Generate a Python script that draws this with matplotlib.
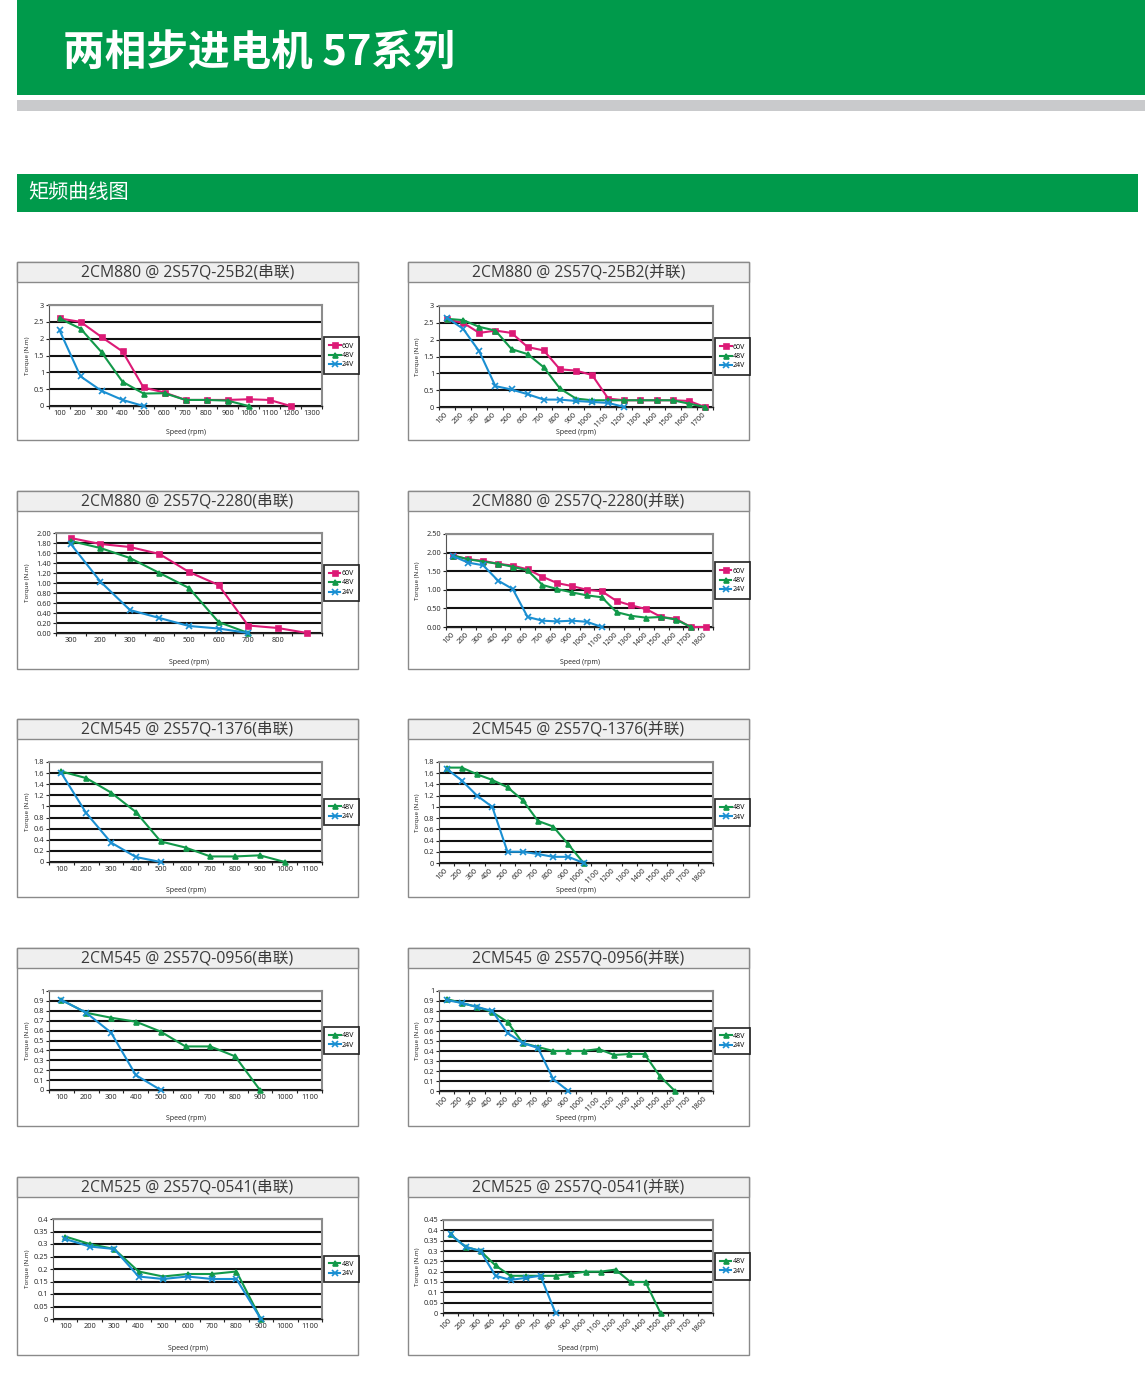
import matplotlib
matplotlib.use('Agg')
import matplotlib.pyplot as plt
from matplotlib.patches import Rectangle
import numpy as np

plt.rcParams['font.family'] = ['Open Sans', 'Noto Sans CJK SC', 'DejaVu Sans']

# category labels (speed, rpm)
speed_1100 = ['100', '200', '300', '400', '500', '600', '700', '800', '900', '1000', '1100']
speed_1300 = speed_1100 + ['1200', '1300']
speed_1700 = speed_1300 + ['1400', '1500', '1600', '1700']
speed_1800 = speed_1700 + ['1800']
speed_2280s = ['300', '200', '300', '400', '500', '600', '700', '800', '']

# 2CM880 @ 2S57Q-25B2
s25_60v = [2.6, 2.5, 2.05, 1.62, 0.55, 0.4, 0.18, 0.18, 0.18, 0.2, 0.18, 0.0]
s25_48v = [2.6, 2.3, 1.6, 0.72, 0.37, 0.38, 0.18, 0.18, 0.16, 0.0]
s25_24v = [2.25, 0.88, 0.45, 0.18, 0.0]
p25_60v = [2.6, 2.5, 2.2, 2.27, 2.2, 1.78, 1.68, 1.12, 1.08, 0.95, 0.25, 0.2, 0.2, 0.2, 0.2, 0.18, 0.0]
p25_48v = [2.62, 2.58, 2.38, 2.27, 1.72, 1.57, 1.18, 0.55, 0.25, 0.2, 0.2, 0.2, 0.2, 0.2, 0.2, 0.1, 0.0]
p25_24v = [2.65, 2.32, 1.65, 0.62, 0.52, 0.38, 0.22, 0.22, 0.18, 0.15, 0.12, 0.0]

# 2CM880 @ 2S57Q-2280
s22_60v = [1.9, 1.78, 1.72, 1.58, 1.22, 0.96, 0.15, 0.1, 0.0]
s22_48v = [1.84, 1.7, 1.5, 1.2, 0.9, 0.22, 0.0]
s22_24v = [1.78, 1.03, 0.46, 0.3, 0.14, 0.09, 0.0]
p22_60v = [1.92, 1.82, 1.78, 1.7, 1.65, 1.55, 1.35, 1.18, 1.1, 1.0, 0.96, 0.7, 0.58, 0.48, 0.27, 0.22, 0.0, 0.0]
p22_48v = [1.92, 1.82, 1.76, 1.7, 1.62, 1.52, 1.13, 1.02, 0.93, 0.85, 0.8, 0.4, 0.3, 0.25, 0.27, 0.2, 0.0]
p22_24v = [1.9, 1.73, 1.66, 1.25, 1.02, 0.27, 0.17, 0.15, 0.17, 0.14, 0.0]

# 2CM545 @ 2S57Q-1376
s13_48v = [1.63, 1.51, 1.25, 0.9, 0.37, 0.26, 0.1, 0.1, 0.12, 0.0]
s13_24v = [1.6, 0.88, 0.35, 0.09, 0.0]
p13_48v = [1.7, 1.7, 1.58, 1.48, 1.35, 1.12, 0.75, 0.65, 0.33, 0.0]
p13_24v = [1.68, 1.47, 1.2, 1.0, 0.2, 0.2, 0.16, 0.11, 0.11, 0.0]

# 2CM545 @ 2S57Q-0956
s09_48v = [0.91, 0.78, 0.73, 0.69, 0.59, 0.44, 0.44, 0.34, 0.0]
s09_24v = [0.91, 0.78, 0.58, 0.15, 0.0]
p09_48v = [0.92, 0.88, 0.84, 0.79, 0.69, 0.48, 0.44, 0.40, 0.40, 0.40, 0.42, 0.36, 0.37, 0.37, 0.15, 0.0]
p09_24v = [0.91, 0.88, 0.84, 0.8, 0.58, 0.48, 0.43, 0.12, 0.0]

# 2CM525 @ 2S57Q-0541
s05_48v = [0.33, 0.30, 0.28, 0.19, 0.17, 0.18, 0.18, 0.19, 0.0]
s05_24v = [0.32, 0.29, 0.28, 0.17, 0.16, 0.17, 0.16, 0.16, 0.0]
p05_48v = [0.38, 0.32, 0.30, 0.23, 0.18, 0.18, 0.18, 0.18, 0.19, 0.20, 0.20, 0.21, 0.15, 0.15, 0.0]
p05_24v = [0.38, 0.32, 0.30, 0.18, 0.16, 0.17, 0.18, 0.0]

GREEN = '#009a4b'
C60, C48, C24 = '#dc1a76', '#12994a', '#1a8fd2'
STYLE = {'60V': (C60, 's'), '48V': (C48, '^'), '24V': (C24, 'x')}

W, H = 1145, 1374
COLS = [17, 408]
ROWS = [262, 491, 719, 948, 1177]
PW, PH = 341, 178

# (title, col, row, cats, series, ymax, ystep, decimals, rotate, xlabel, plot offsets left/top/bottom)
charts = [
    ('2CM880 @ 2S57Q-25B2(串联)', 0, 0, speed_1300,
     [('60V', s25_60v), ('48V', s25_48v), ('24V', s25_24v)], 3, 0.5, None, False, 'Speed (rpm)', (32, 43, 144)),
    ('2CM880 @ 2S57Q-25B2(并联)', 1, 0, speed_1700,
     [('60V', p25_60v), ('48V', p25_48v), ('24V', p25_24v)], 3, 0.5, None, True, 'Speed (rpm)', (31, 44, 145)),
    ('2CM880 @ 2S57Q-2280(串联)', 0, 1, speed_2280s,
     [('60V', s22_60v), ('48V', s22_48v), ('24V', s22_24v)], 2.0, 0.2, 2, False, 'Speed (rpm)', (39, 42, 142)),
    ('2CM880 @ 2S57Q-2280(并联)', 1, 1, speed_1800,
     [('60V', p22_60v), ('48V', p22_48v), ('24V', p22_24v)], 2.5, 0.5, 2, True, 'Speed (rpm)', (38, 43, 136)),
    ('2CM545 @ 2S57Q-1376(串联)', 0, 2, speed_1100,
     [('48V', s13_48v), ('24V', s13_24v)], 1.8, 0.2, None, False, 'Speed (rpm)', (32, 43, 143)),
    ('2CM545 @ 2S57Q-1376(并联)', 1, 2, speed_1800,
     [('48V', p13_48v), ('24V', p13_24v)], 1.8, 0.2, None, True, 'Speed (rpm)', (31, 43, 144)),
    ('2CM545 @ 2S57Q-0956(串联)', 0, 3, speed_1100,
     [('48V', s09_48v), ('24V', s09_24v)], 1.0, 0.1, None, False, 'Speed (rpm)', (32, 43, 142)),
    ('2CM545 @ 2S57Q-0956(并联)', 1, 3, speed_1800,
     [('48V', p09_48v), ('24V', p09_24v)], 1.0, 0.1, None, True, 'Speed (rpm)', (31, 43, 143)),
    ('2CM525 @ 2S57Q-0541(串联)', 0, 4, speed_1100,
     [('48V', s05_48v), ('24V', s05_24v)], 0.4, 0.05, None, False, 'Speed (rpm)', (36, 42, 142)),
    ('2CM525 @ 2S57Q-0541(并联)', 1, 4, speed_1800,
     [('48V', p05_48v), ('24V', p05_24v)], 0.45, 0.05, None, True, 'Spead (rpm)', (35, 43, 136)),
]

fig = plt.figure(figsize=(W / 100, H / 100), dpi=100)
bg = fig.add_axes([0, 0, 1, 1])
bg.set_xlim(0, W)
bg.set_ylim(H, 0)
bg.axis('off')

# page header
bg.add_patch(Rectangle((17, 0), W - 17, 95, fc=GREEN, ec='none'))
bg.add_patch(Rectangle((17, 100), W - 17, 11, fc='#c9cacc', ec='none'))
bg.add_patch(Rectangle((17, 174), 1121, 38, fc=GREEN, ec='none'))
bg.text(63, 54, '两相步进电机 57系列', color='white', fontsize=30, fontweight='bold',
        family=['Noto Sans CJK SC', 'DejaVu Sans'], va='center', ha='left')
bg.text(28, 192, '矩频曲线图', color='white', fontsize=14.5,
        family=['Noto Sans CJK SC', 'DejaVu Sans'], va='center', ha='left')


def fmt_tick(v, dec):
    if dec is not None:
        return f'{v:.{dec}f}'
    return f'{round(v, 3):g}'


for title, col, row, cats, series, ymax, ystep, dec, rotate, xlab, offs in charts:
    px, py = COLS[col], ROWS[row]
    bg.add_patch(Rectangle((px, py), PW, PH, fc='white', ec='#8a8a8a', lw=1))
    bg.add_patch(Rectangle((px, py), PW, 20, fc='#efefef', ec='#8a8a8a', lw=1))
    bg.text(px + PW / 2, py + 10.5, title, fontsize=11.3, color='#3a3a3a', ha='center', va='center')

    left, top, bot = offs
    x0, x1 = px + left, px + 305
    y0, y1 = py + top, py + bot
    ax = fig.add_axes([x0 / W, 1 - y1 / H, (x1 - x0) / W, (y1 - y0) / H])
    ax.set_facecolor('white')

    n = len(cats)
    for name, vals in series:
        c, m = STYLE[name]
        ax.plot(np.arange(len(vals)), vals, color=c, lw=1.5, marker=m, ms=3.6 if m != 'x' else 3.8,
                mew=1.2, label=name, clip_on=False, zorder=3)

    ax.set_xlim(-0.5, n - 0.5)
    ax.set_ylim(0, ymax)
    yt = np.round(np.arange(0, ymax + ystep / 2, ystep), 3)
    ax.set_yticks(yt)
    ax.set_yticklabels([fmt_tick(v, dec) for v in yt], fontsize=5.3, color='#222')
    ax.set_xticks(np.arange(n))
    if rotate:
        ax.set_xticklabels(cats, fontsize=5.5, color='#222', rotation=45, ha='right', va='center',
                           rotation_mode='anchor')
    else:
        ax.set_xticklabels(cats, fontsize=5.3, color='#222')
    ax.set_xticks(np.arange(n + 1) - 0.5, minor=True)
    ax.tick_params(axis='x', which='major', length=0, pad=3 if not rotate else 5)
    ax.tick_params(axis='x', which='minor', length=2.5, width=0.8, direction='out', color='#222')
    ax.tick_params(axis='y', length=2, width=0.8, pad=1.5, color='#222')

    ax.yaxis.grid(True, color='#111', lw=1.5)
    ax.set_axisbelow(True)
    for s in ('top', 'right'):
        ax.spines[s].set_color('#8c8c8c')
        ax.spines[s].set_linewidth(1.5)
    ax.spines['left'].set_color('#555')
    ax.spines['left'].set_linewidth(0.8)
    ax.spines['bottom'].set_color('#222')
    ax.spines['bottom'].set_linewidth(1.0)

    leg = ax.legend(loc='center left', bbox_to_anchor=(1.008, 0.5), fontsize=5, frameon=True,
                    fancybox=False, handlelength=1.6, handletextpad=0.15, borderpad=0.75,
                    labelspacing=0.35, borderaxespad=0)
    leg.get_frame().set_edgecolor('black')
    leg.get_frame().set_linewidth(1.3)

    bg.text((x0 + x1) / 2, py + 171, xlab, fontsize=5, color='#222', ha='center', va='center')
    bg.text(px + 10, (y0 + y1) / 2, 'Torque (N.m)', fontsize=4.5, color='#222', ha='center',
            va='center', rotation=90)

fig.savefig('out.png', dpi=100)
